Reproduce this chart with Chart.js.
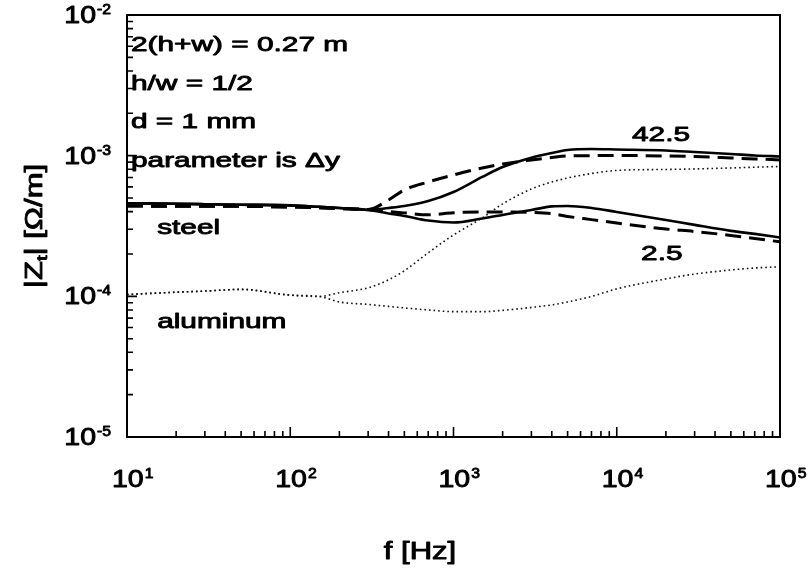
<!DOCTYPE html>
<html>
<head>
<meta charset="utf-8">
<script src="https://cdn.jsdelivr.net/npm/chart.js@4.4.1/dist/chart.umd.min.js"></script>
<style>
  html, body { margin: 0; padding: 0; background: #ffffff; }
  #wrap { width: 808px; height: 570px; position: relative; }
</style>
</head>
<body>
<div id="wrap"><canvas id="chart" width="808" height="570"></canvas></div>
<script>
// Frequencies (Hz) at which the transfer impedance curves are sampled
const freqHz = [10, 20, 30, 50, 100, 150, 200, 300, 400, 500, 700, 1000, 1500, 2000,
                3000, 4000, 5000, 7000, 10000, 20000, 30000, 50000, 70000, 100000];

// |Zt| in units of 1e-4 Ohm/m
const steelSolidDy42 = [4.59, 4.55, 4.52, 4.48, 4.43, 4.33, 4.25, 4.11, 4.25, 4.39, 4.76, 5.52, 7.06, 8.30,
                        9.68, 10.45, 10.98, 11.16, 11.07, 10.89, 10.62, 10.28, 10.03, 9.87];
const steelSolidDy2 = [4.59, 4.55, 4.52, 4.48, 4.43, 4.33, 4.25, 4.11, 3.88, 3.73, 3.46, 3.35, 3.58, 3.79,
                       4.11, 4.36, 4.39, 4.25, 3.98, 3.49, 3.22, 2.92, 2.78, 2.62];
const steelDashedDy42 = [4.39, 4.37, 4.37, 4.36, 4.32, 4.27, 4.21, 4.14, 4.84, 5.71, 6.50, 7.29, 8.18, 8.73,
                         9.32, 9.70, 9.95, 10.00, 10.03, 9.95, 9.85, 9.63, 9.48, 9.32];
const steelDashedDy2 = [4.39, 4.37, 4.37, 4.36, 4.32, 4.27, 4.21, 4.14, 4.00, 3.92, 3.80, 3.93, 3.98, 3.98,
                        3.95, 3.87, 3.70, 3.51, 3.32, 3.01, 2.89, 2.71, 2.58, 2.44];
const aluminumDy42 = [1.03, 1.07, 1.09, 1.12, 1.02, 0.998, 1.06, 1.15, 1.31, 1.52, 2.04, 2.73, 3.61, 4.54,
                      5.80, 6.50, 6.94, 7.47, 7.85, 7.98, 8.05, 8.18, 8.28, 8.38];
const aluminumDy2 = [1.03, 1.07, 1.09, 1.12, 1.02, 0.998, 0.912, 0.876, 0.848, 0.827, 0.800, 0.778, 0.778, 0.795,
                     0.834, 0.869, 0.912, 0.998, 1.13, 1.33, 1.44, 1.54, 1.59, 1.62];
const UNIT = 1e-4;

// Axis decades (exponents) used for the tick labels
const xDecades = [1, 2, 3, 4, 5];
const yDecades = [-2, -3, -4, -5];

// Text annotations
const infoLines = ['2(h+w) = 0.27 m', 'h/w = 1/2', 'd = 1 mm', 'parameter is \u0394y'];
const curveLabels = [
  { text: 'steel', f: 15.3, z: 2.78e-4 },
  { text: 'aluminum', f: 15.3, z: 5.96e-5 },
  { text: '42.5', f: 12400, z: 1.27e-3 },
  { text: '2.5', f: 14100, z: 1.81e-4 }
];

function series(values) {
  return freqHz.map((f, i) => ({ x: f, y: values[i] * UNIT }));
}

const FONT = '"Liberation Sans", Arial, Helvetica, sans-serif';

function setFont(ctx, size) { ctx.font = size + 'px ' + FONT; }
function textW(ctx, text, size, sx) {
  setFont(ctx, size);
  return ctx.measureText(text).width * sx;
}
// horizontally widened text with a light outline for a medium weight
function drawText(ctx, text, x, y, size, sx) {
  ctx.save();
  setFont(ctx, size);
  ctx.translate(x, y);
  ctx.scale(sx, 1);
  ctx.textAlign = 'left';
  ctx.textBaseline = 'alphabetic';
  ctx.lineJoin = 'round';
  ctx.lineWidth = 0.9;
  ctx.fillText(text, 0, 0);
  ctx.strokeText(text, 0, 0);
  ctx.restore();
}

// power-of-ten tick labels
const BASE_SIZE = 23, SUP_SIZE = 15, TICK_SX = 1.24, SUP_SX = 1.05;
function powerWidth(ctx, exp) {
  return textW(ctx, '10', BASE_SIZE, TICK_SX) + 1 + textW(ctx, String(exp), SUP_SIZE, SUP_SX);
}
function drawPower(ctx, exp, x, baseline) {
  const baseW = textW(ctx, '10', BASE_SIZE, TICK_SX);
  drawText(ctx, '10', x, baseline, BASE_SIZE, TICK_SX);
  drawText(ctx, String(exp), x + baseW + 1, baseline - 9, SUP_SIZE, SUP_SX);
}

const TEXT_SX = 1.42;

const framePlugin = {
  id: 'framePlugin',
  afterDraw(chart) {
    const ctx = chart.ctx;
    const a = chart.chartArea;
    const xs = chart.scales.x, ys = chart.scales.y;
    ctx.save();
    ctx.fillStyle = '#000';
    ctx.strokeStyle = '#000';

    // frame
    ctx.lineWidth = 2;
    ctx.strokeRect(a.left, a.top, a.right - a.left, a.bottom - a.top);

    // inward ticks on left and bottom
    ctx.lineWidth = 1.6;
    ctx.beginPath();
    for (let e = 1; e <= 5; e++) {
      for (let m = 1; m <= 9; m++) {
        const v = m * Math.pow(10, e);
        if (v > 1e5) break;
        const px = xs.getPixelForValue(v);
        const len = m === 1 ? 10 : 6;
        ctx.moveTo(px, a.bottom);
        ctx.lineTo(px, a.bottom - len);
      }
    }
    for (let e = -5; e <= -2; e++) {
      for (let m = 1; m <= 9; m++) {
        const v = m * Math.pow(10, e);
        if (v > 1.0001e-2) break;
        const py = ys.getPixelForValue(v);
        const len = m === 1 ? 10 : 6;
        ctx.moveTo(a.left, py);
        ctx.lineTo(a.left + len, py);
      }
    }
    ctx.stroke();

    // x tick labels
    xDecades.forEach(e => {
      const px = xs.getPixelForValue(Math.pow(10, e));
      drawPower(ctx, e, px - 15, 487);
    });
    // y tick labels (right aligned)
    yDecades.forEach(e => {
      const py = ys.getPixelForValue(Math.pow(10, e));
      drawPower(ctx, e, 111 - powerWidth(ctx, e), py + 8);
    });

    // axis titles
    const tW = textW(ctx, 'f [Hz]', 23, 1.35);
    drawText(ctx, 'f [Hz]', 420 - tW / 2, 559, 23, 1.35);

    ctx.save();
    ctx.translate(42, 226);
    ctx.rotate(-Math.PI / 2);
    const p1 = '|Z', p2 = 't', p3 = '| [\u03A9/m]';
    const w1 = textW(ctx, p1, 23, 1.35), w2 = textW(ctx, p2, 15, 1.35), w3 = textW(ctx, p3, 23, 1.35);
    let cx = -(w1 + w2 + w3) / 2;
    drawText(ctx, p1, cx, 0, 23, 1.35); cx += w1;
    drawText(ctx, p2, cx, 5, 15, 1.35); cx += w2;
    drawText(ctx, p3, cx, 0, 23, 1.35);
    ctx.restore();

    // info block
    infoLines.forEach((t, i) => {
      drawText(ctx, t, a.left + 4, 51 + i * 38.5, 21, TEXT_SX);
    });
    // curve labels
    curveLabels.forEach(l => {
      drawText(ctx, l.text, xs.getPixelForValue(l.f), ys.getPixelForValue(l.z), 21, TEXT_SX);
    });
    ctx.restore();
  }
};

const solid = { borderColor: '#000', borderWidth: 2.6, borderDash: [] };
const dashed = { borderColor: '#000', borderWidth: 3, borderDash: [16, 8] };
const dotted = { borderColor: '#111', borderWidth: 1.6, borderDash: [1.6, 3] };

function ds(label, values, style) {
  return Object.assign({
    label, data: series(values), pointRadius: 0, fill: false,
    cubicInterpolationMode: 'monotone'
  }, style);
}

new Chart(document.getElementById('chart'), {
  type: 'line',
  data: {
    datasets: [
      ds('aluminum 42.5', aluminumDy42, dotted),
      ds('aluminum 2.5', aluminumDy2, dotted),
      ds('steel dashed 42.5', steelDashedDy42, dashed),
      ds('steel dashed 2.5', steelDashedDy2, dashed),
      ds('steel 42.5', steelSolidDy42, solid),
      ds('steel 2.5', steelSolidDy2, solid)
    ]
  },
  options: {
    responsive: false,
    animation: false,
    devicePixelRatio: 1,
    layout: { padding: { left: 127, right: 28, top: 15, bottom: 133 } },
    plugins: { legend: { display: false }, tooltip: { enabled: false } },
    scales: {
      x: { type: 'logarithmic', min: 10, max: 100000, display: false },
      y: { type: 'logarithmic', min: 1e-5, max: 1e-2, display: false }
    }
  },
  plugins: [framePlugin]
});
</script>
</body>
</html>
